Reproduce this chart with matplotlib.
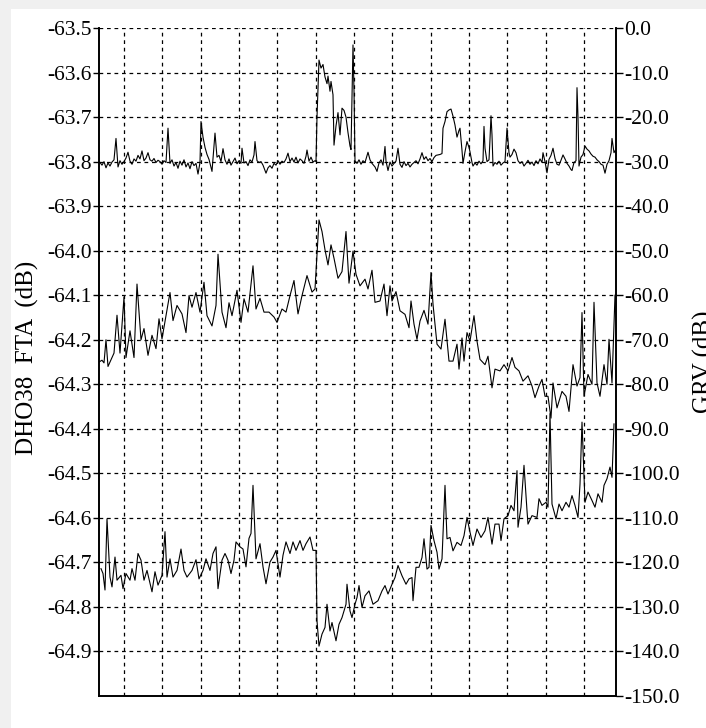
import matplotlib
matplotlib.use("Agg")
import matplotlib.pyplot as plt
import numpy as np

plt.rcParams['font.family'] = ['Liberation Serif', 'DejaVu Serif']

# sample index along the record, values in dB (GRV scale)
top_t = [1, 3, 5, 7, 9, 11, 13, 15, 17, 19, 21, 23, 25, 27, 29, 31, 33, 35, 37, 39, 41, 43, 45, 47, 49,
         51, 53, 55, 57, 59, 61, 63, 65, 67, 69, 71, 73, 75, 77, 79, 81, 83, 85, 87, 89, 91, 93, 95, 97, 99,
         101, 102, 104, 106, 108, 110, 113, 116, 118, 120, 122, 124, 126, 128, 130, 132, 134, 136, 138, 140,
         142, 143, 145, 147, 149, 151, 153, 155, 156, 158, 160, 162, 164, 167, 169, 171, 173, 175, 177, 179,
         181, 183, 185, 187, 189, 191, 193, 195, 197, 199, 201, 203, 205, 207, 208, 210, 212, 214, 216, 217,
         218, 220, 222, 224, 226, 228, 229, 231, 232, 234, 235, 237, 239, 241, 243, 245, 247, 249, 251, 252,
         254, 255, 256, 258, 260, 262, 264, 266, 269, 271, 273, 276, 278, 280, 282, 284, 286, 287, 289, 291,
         293, 295, 297, 299, 301, 303, 305, 307, 309, 311, 313, 315, 317, 319, 321, 323, 325, 327, 329, 331,
         333, 335, 337, 339, 341, 343, 344, 346, 348, 350, 352, 354, 356, 358, 360, 361, 363, 364, 366, 368,
         370, 371, 373, 374, 376, 378, 380, 382, 384, 385, 386, 388, 390, 391, 392, 393, 394, 396, 398, 400,
         402, 404, 406, 408, 410, 411, 413, 415, 417, 419, 421, 423, 425, 427, 429, 431, 433, 435, 437, 439,
         441, 443, 444, 446, 448, 450, 452, 454, 456, 458, 460, 462, 464, 466, 468, 470, 472, 473, 475, 477,
         478, 479, 480, 482, 484, 486, 488, 490, 492, 494, 496, 498, 500, 502, 504, 506, 508, 510, 512, 513,
         515, 516]
top_db = [-30.2, -30.8, -30.0, -31.4, -30.3, -31.0, -30.1, -29.6, -24.8, -31.2, -29.8, -30.6, -30.0, -29.2,
          -27.9, -29.9, -30.6, -29.4, -29.9, -28.6, -29.4, -27.6, -29.8, -29.2, -28.0, -29.6, -29.9, -29.3,
          -30.2, -29.7, -30.0, -30.6, -29.8, -30.2, -22.5, -30.4, -29.6, -31.0, -30.2, -31.5, -29.9, -30.8,
          -29.6, -31.2, -30.3, -31.6, -30.0, -30.9, -30.4, -32.8, -30.2, -21.0, -24.5, -26.8, -28.4, -29.5,
          -32.2, -23.6, -29.0, -28.6, -30.0, -27.1, -29.6, -30.6, -29.4, -30.8, -30.0, -29.2, -30.5, -29.8,
          -30.4, -27.0, -30.3, -30.0, -30.9, -29.6, -30.1, -28.5, -25.5, -29.8, -30.2, -30.0, -30.8, -32.6,
          -31.4, -30.9, -31.5, -30.4, -30.8, -29.8, -30.6, -29.9, -30.2, -29.4, -28.1, -30.0, -29.2, -30.1,
          -29.0, -30.3, -29.4, -29.8, -30.4, -28.8, -27.4, -29.9, -29.0, -30.1, -29.8, -30.0, -20.0, -7.2,
          -9.0, -8.2, -11.0, -12.5, -10.8, -14.2, -12.0, -15.0, -26.3, -22.0, -19.0, -24.0, -18.0, -18.5,
          -20.0, -23.5, -26.5, -27.3, -3.8, -14.0, -29.8, -30.4, -29.6, -30.6, -29.8, -30.2, -27.9, -29.6,
          -30.4, -31.2, -32.2, -30.3, -29.6, -30.8, -26.6, -29.9, -32.0, -30.1, -31.0, -30.4, -29.9, -27.0,
          -30.6, -31.3, -30.0, -30.9, -30.4, -31.2, -30.6, -30.2, -29.8, -30.5, -29.4, -28.0, -29.5, -28.9,
          -29.8, -29.3, -30.0, -29.1, -28.6, -28.5, -28.4, -28.2, -22.5, -21.0, -18.8, -18.4, -18.2, -19.8,
          -21.8, -24.5, -23.0, -22.5, -27.5, -30.4, -27.8, -25.5, -26.8, -27.8, -30.2, -31.0, -30.3, -30.8,
          -29.9, -30.5, -29.8, -22.1, -27.0, -30.0, -29.6, -25.0, -19.7, -24.0, -31.0, -30.2, -30.6, -29.9,
          -30.8, -30.3, -30.0, -22.5, -28.0, -29.0, -28.4, -27.2, -28.0, -29.8, -30.4, -30.0, -31.0, -30.4,
          -29.7, -30.6, -30.1, -30.9, -29.8, -30.5, -29.4, -30.2, -28.0, -30.0, -32.5, -29.5, -28.6, -27.0,
          -29.3, -30.6, -30.8, -29.7, -28.5, -29.4, -30.4, -31.0, -31.8, -32.0, -30.2, -29.8, -13.4, -20.0,
          -31.0, -29.0, -28.4, -26.5, -27.2, -27.6, -28.3, -28.8, -29.0, -29.6, -30.0, -30.6, -30.8, -32.6,
          -30.6, -29.8, -28.0, -24.8, -28.0, -27.6]

mid_t = [0, 3, 5, 7, 9, 12, 15, 18, 21, 25, 27, 31, 35, 38, 42, 45, 49, 53, 57, 60, 63, 67, 71, 74, 78,
         83, 87, 90, 93, 97, 101, 105, 108, 113, 117, 119, 123, 127, 130, 133, 138, 142, 145, 149, 154, 157,
         161, 165, 170, 175, 178, 183, 187, 191, 195, 199, 203, 208, 213, 216, 220, 223, 226, 229, 232, 235,
         239, 243, 247, 250, 254, 257, 261, 266, 269, 273, 276, 281, 285, 288, 291, 293, 297, 301, 306, 310,
         312, 315, 318, 321, 325, 329, 332, 334, 338, 342, 346, 350, 354, 358, 360, 363, 365, 368, 371, 375,
         378, 381, 386, 389, 393, 396, 401, 405, 409, 413, 416, 420, 424, 429, 433, 436, 440, 443, 446, 449,
         452, 454, 458, 463, 467, 470, 474, 478, 481, 483, 485, 489, 493, 495, 498, 501, 505, 508, 510, 513,
         516]
mid_db = [-75.0, -74.6, -75.2, -70.0, -76.0, -74.5, -73.0, -64.5, -73.0, -60.4, -74.0, -68.0, -74.0, -57.5,
          -70.0, -67.5, -73.5, -69.0, -72.0, -65.3, -69.8, -64.6, -59.4, -65.7, -62.3, -64.2, -68.4, -60.1,
          -62.7, -59.4, -63.8, -57.1, -64.6, -66.9, -62.3, -50.8, -63.8, -67.3, -61.7, -64.6, -58.9, -66.1,
          -60.8, -63.8, -53.4, -63.1, -60.7, -63.8, -63.8, -64.9, -66.1, -63.1, -63.8, -60.1, -56.7, -64.2,
          -60.1, -55.6, -59.3, -58.6, -43.1, -45.7, -49.8, -53.2, -48.7, -51.7, -56.2, -54.7, -45.7, -57.3,
          -50.1, -55.3, -57.9, -56.4, -58.6, -54.4, -61.6, -61.3, -57.5, -64.6, -57.9, -61.3, -59.2, -63.5,
          -64.3, -67.3, -61.3, -66.5, -69.9, -65.8, -63.4, -66.5, -54.9, -62.0, -71.0, -72.1, -65.4, -74.8,
          -74.8, -71.0, -76.6, -69.6, -74.8, -68.4, -70.3, -64.6, -70.3, -74.4, -75.6, -73.7, -80.8, -76.6,
          -77.0, -75.6, -77.0, -74.0, -76.2, -77.0, -79.3, -78.1, -80.4, -83.0, -80.4, -78.9, -82.7, -82.7,
          -87.6, -79.7, -85.3, -81.6, -82.7, -86.1, -75.6, -80.4, -78.5, -63.9, -82.7, -77.8, -80.0, -61.6,
          -79.7, -82.7, -75.6, -80.0, -69.9, -79.7, -60.0]

bot_t = [2, 4, 6, 8, 11, 13, 16, 18, 22, 24, 27, 31, 33, 36, 39, 42, 45, 48, 53, 56, 59, 63, 66, 68, 71,
         74, 78, 82, 85, 88, 93, 97, 100, 104, 107, 111, 114, 117, 119, 123, 126, 129, 132, 135, 137, 141,
         144, 147, 150, 152, 154, 157, 161, 164, 167, 171, 174, 177, 181, 184, 187, 191, 194, 197, 201, 204,
         207, 211, 214, 217, 218, 220, 223, 226, 228, 231, 233, 237, 240, 243, 247, 248, 251, 253, 256, 258,
         260, 263, 266, 270, 274, 279, 283, 286, 289, 293, 296, 299, 303, 307, 310, 313, 314, 317, 320, 323,
         325, 328, 330, 332, 335, 338, 340, 343, 346, 348, 351, 354, 358, 362, 365, 368, 371, 374, 378, 382,
         386, 389, 393, 396, 400, 402, 405, 409, 412, 415, 418, 419, 422, 425, 428, 429, 433, 438, 440, 443,
         447, 449, 451, 453, 457, 460, 463, 467, 470, 473, 476, 479, 481, 483, 486, 489, 493, 496, 499, 503,
         505, 508, 511, 513, 515]
bot_db = [-121.4, -122.5, -126.2, -110.2, -123.3, -125.5, -118.8, -124.0, -122.9, -125.9, -122.5, -124.0,
          -121.4, -124.0, -118.0, -119.5, -124.0, -121.8, -126.6, -122.1, -125.1, -122.9, -113.1, -123.3,
          -119.2, -123.3, -121.8, -117.0, -121.8, -123.3, -121.8, -119.4, -123.7, -121.8, -119.2, -121.8,
          -118.0, -116.5, -125.9, -119.5, -118.0, -119.5, -122.5, -119.5, -115.4, -116.5, -117.0, -121.0,
          -114.6, -113.5, -102.7, -119.2, -115.8, -121.0, -124.8, -119.9, -118.8, -117.3, -123.3, -118.4,
          -115.4, -118.0, -115.4, -117.3, -115.1, -117.3, -115.8, -114.3, -117.3, -117.3, -133.1, -138.8,
          -136.1, -134.6, -129.4, -135.4, -133.5, -137.6, -133.9, -132.4, -129.4, -124.9, -130.9, -132.4,
          -129.4, -127.9, -125.2, -130.1, -127.5, -126.4, -129.4, -128.6, -126.4, -125.2, -127.1, -124.9,
          -123.4, -120.7, -123.0, -124.9, -123.7, -123.4, -128.6, -121.1, -121.1, -118.9, -114.7, -121.5,
          -121.1, -111.7, -115.1, -117.7, -121.5, -119.2, -102.7, -114.7, -114.4, -117.4, -115.5, -116.2,
          -114.0, -109.9, -113.2, -116.2, -112.5, -114.4, -112.9, -109.9, -115.9, -111.4, -111.4, -115.1,
          -110.2, -109.5, -107.2, -108.4, -99.4, -112.1, -107.6, -98.2, -108.4, -111.4, -109.5, -109.9,
          -105.7, -107.2, -106.5, -107.6, -86.6, -106.9, -110.2, -106.9, -108.4, -106.5, -107.6, -105.0,
          -107.2, -109.9, -102.4, -88.5, -106.5, -104.2, -106.1, -107.6, -104.6, -106.5, -102.7, -101.2,
          -98.6, -100.9, -88.9]

fta_ticks = [-63.5, -63.6, -63.7, -63.8, -63.9, -64.0, -64.1, -64.2, -64.3, -64.4, -64.5, -64.6, -64.7,
             -64.8, -64.9]
grv_ticks = [0, -10, -20, -30, -40, -50, -60, -70, -80, -90, -100, -110, -120, -130, -140, -150]

fig = plt.figure(figsize=(7.06, 7.28), dpi=100, facecolor='#f0f0f0')
fig.patches.append(plt.Rectangle((11 / 706, 0), 1, 719 / 728, transform=fig.transFigure,
                                 facecolor='white', edgecolor='none', zorder=-10))

ax = fig.add_axes([99 / 706, 32 / 728, 517 / 706, 668 / 728])
ax.set_xlim(0, 517)
ax.set_ylim(-65.0, -63.5)
ax.set_yticks(fta_ticks)
ax.set_yticklabels(['%.1f' % v for v in fta_ticks])
ax.set_xticks(25 + 38.33 * np.arange(13))
ax.tick_params(axis='x', length=0, labelbottom=False)
ax.tick_params(axis='y', length=4, width=1, labelsize=15.5, pad=1, direction='out')
ax.grid(True, color='black', linestyle=(0, (3, 3)), linewidth=0.9)
ax.set_facecolor('none')

ax2 = ax.twinx()
ax2.set_ylim(-150, 0)
ax2.set_yticks(grv_ticks)
ax2.set_yticklabels(['%.1f' % v for v in grv_ticks])
ax2.tick_params(axis='y', length=5, width=1, labelsize=15.5, pad=1, direction='out')

for a in (ax, ax2):
    a.spines['top'].set_visible(False)
    for s in ('left', 'right', 'bottom'):
        a.spines[s].set_linewidth(1.2)

ax2.plot(top_t, top_db, color='black', linewidth=0.8)
ax2.plot(mid_t, mid_db, color='black', linewidth=0.8)
ax2.plot(bot_t, bot_db, color='black', linewidth=0.8)

fig.text(27 / 706, 1 - 358 / 728, 'DHO38  FTA  (dB)', rotation=90, ha='center', va='center', fontsize=18)
fig.text(693 / 706, 1 - 362 / 728, 'GRV (dB)', rotation=90, ha='left', va='center', fontsize=18)

fig.savefig('out.png', dpi=100, facecolor=fig.get_facecolor())
